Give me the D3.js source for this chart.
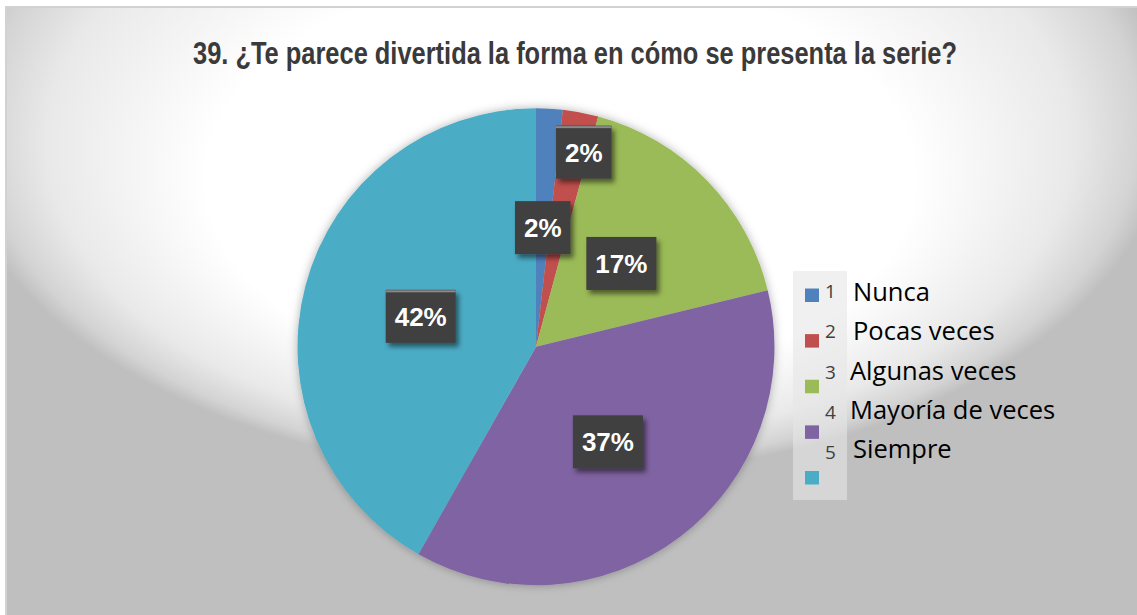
<!DOCTYPE html>
<html>
<head>
<meta charset="utf-8">
<script src="https://cdn.jsdelivr.net/npm/d3@7"></script>
<style>
  html, body { margin: 0; padding: 0; background: #ffffff; }
  svg { display: block; }
</style>
</head>
<body>
<svg id="chart" width="1137" height="615"></svg>
<script>
// Survey answers, share of respondents in percent
const categories = ["Nunca", "Pocas veces", "Algunas veces", "Mayoría de veces", "Siempre"];
const codes = ["1", "2", "3", "4", "5"];
const values = [1.8, 2.4, 17.0, 37.0, 41.8];
const title = "39. ¿Te parece divertida la forma en cómo se presenta la serie?";

const colors = ["#4f81bd", "#c0504d", "#9bbb59", "#8064a2", "#4bacc6"];

const W = 1137, H = 615;
const svg = d3.select("#chart");
const defs = svg.append("defs");

// Frame background: soft radial light, grey towards the edges
const bg = defs.append("radialGradient")
  .attr("id", "bgGrad")
  .attr("gradientUnits", "userSpaceOnUse")
  .attr("cx", 0).attr("cy", 0).attr("r", 1)
  .attr("fx", 0).attr("fy", 0.4)
  .attr("gradientTransform", "translate(560,120) scale(610,357)");
[[0, "#ffffff"], [0.58, "#ffffff"], [0.84, "#e9e9e9"], [0.95, "#d3d3d3"], [1, "#bfbfbf"]]
  .forEach(([o, c]) => bg.append("stop").attr("offset", o).attr("stop-color", c));

const pieShadow = defs.append("filter").attr("id", "pieShadow")
  .attr("x", "-10%").attr("y", "-10%").attr("width", "120%").attr("height", "120%");
pieShadow.append("feDropShadow").attr("dx", 0).attr("dy", 0)
  .attr("stdDeviation", 5).attr("flood-color", "#000").attr("flood-opacity", 0.3);

const boxShadow = defs.append("filter").attr("id", "boxShadow")
  .attr("x", "-20%").attr("y", "-20%").attr("width", "150%").attr("height", "160%");
boxShadow.append("feDropShadow").attr("dx", 3).attr("dy", 4)
  .attr("stdDeviation", 2.5).attr("flood-color", "#000").attr("flood-opacity", 0.5);

svg.append("rect")
  .attr("x", 6).attr("y", 7).attr("width", W + 10).attr("height", H + 10)
  .attr("fill", "url(#bgGrad)")
  .attr("stroke", "#d2d2d2").attr("stroke-width", 2);

// Title
svg.append("text")
  .attr("x", 575).attr("y", 64)
  .attr("text-anchor", "middle")
  .attr("font-family", "'Liberation Sans Narrow', 'Arial Narrow', 'Liberation Sans', sans-serif")
  .attr("font-weight", "bold")
  .attr("font-size", 31)
  .attr("fill", "#3a3a3a")
  .attr("textLength", 764)
  .attr("lengthAdjust", "spacingAndGlyphs")
  .text(title);

// Pie
const cx = 536, cy = 346.7, R = 238.5;
const pie = d3.pie().sort(null).value(d => d);
const arcs = pie(values);
const arc = d3.arc().innerRadius(0).outerRadius(R);

const g = svg.append("g").attr("transform", `translate(${cx},${cy})`);
g.append("g").attr("filter", "url(#pieShadow)")
  .selectAll("path")
  .data(arcs)
  .join("path")
  .attr("d", arc)
  .attr("fill", (d, i) => colors[i]);

// Data labels: radius factor along the slice and angular nudge (degrees)
const labelRadius = [0.5, 0.84, 0.5, 0.5, 0.5];
const labelNudge = [0, 3, 0, 0, 0];
const labelRule = [false, true, false, false, true];
const fmt = v => Math.round(v) + "%";

arcs.forEach((a, i) => {
  const mid = (a.startAngle + a.endAngle) / 2 + labelNudge[i] * Math.PI / 180;
  const rr = R * labelRadius[i];
  const lx = Math.sin(mid) * rr, ly = -Math.cos(mid) * rr;
  const lg = g.append("g").attr("transform", `translate(${lx},${ly})`);
  const box = lg.append("rect").attr("fill", "#404040").attr("filter", "url(#boxShadow)");
  const t = lg.append("text")
    .attr("text-anchor", "middle")
    .attr("y", 9.5)
    .attr("font-family", "'Liberation Sans', Arial, sans-serif")
    .attr("font-weight", "bold")
    .attr("font-size", 26)
    .attr("fill", "#ffffff")
    .text(fmt(values[i]));
  const tw = t.node().getComputedTextLength();
  const bw = tw + 18, bh = 53;
  box.attr("x", -bw / 2).attr("y", -bh / 2).attr("width", bw).attr("height", bh);
  if (labelRule[i]) {
    lg.append("rect").attr("x", -bw / 2).attr("y", -bh / 2 + 0.5)
      .attr("width", bw).attr("height", 2).attr("fill", "#8a8a8a");
  }
});

// Legend
const legend = svg.append("g");
legend.append("rect")
  .attr("x", 793).attr("y", 271).attr("width", 54).attr("height", 229)
  .attr("fill", "#e6e6e6").attr("opacity", 0.6);

const sqY = d3.scaleLinear().domain([0, 4]).range([288.5, 471]);
const numY = d3.scaleLinear().domain([0, 4]).range([298, 459]);
const nameY = d3.scaleLinear().domain([0, 4]).range([301, 458]);

legend.selectAll("rect.sw")
  .data(categories)
  .join("rect")
  .attr("class", "sw")
  .attr("x", 805).attr("y", (d, i) => sqY(i))
  .attr("width", 14).attr("height", 13.5)
  .attr("fill", (d, i) => colors[i]);

legend.selectAll("text.code")
  .data(codes)
  .join("text")
  .attr("class", "code")
  .attr("x", 825).attr("y", (d, i) => numY(i))
  .attr("font-family", "'Open Sans', 'Noto Sans', sans-serif")
  .attr("font-size", 19)
  .attr("fill", "#404040")
  .text(d => d);

legend.selectAll("text.name")
  .data(categories)
  .join("text")
  .attr("class", "name")
  .attr("x", (d, i) => i === 2 || i === 3 ? 850 : 853)
  .attr("y", (d, i) => nameY(i))
  .attr("font-family", "'Open Sans', 'Noto Sans', sans-serif")
  .attr("font-size", 25.5)
  .attr("fill", "#000000")
  .text(d => d);
</script>
</body>
</html>
